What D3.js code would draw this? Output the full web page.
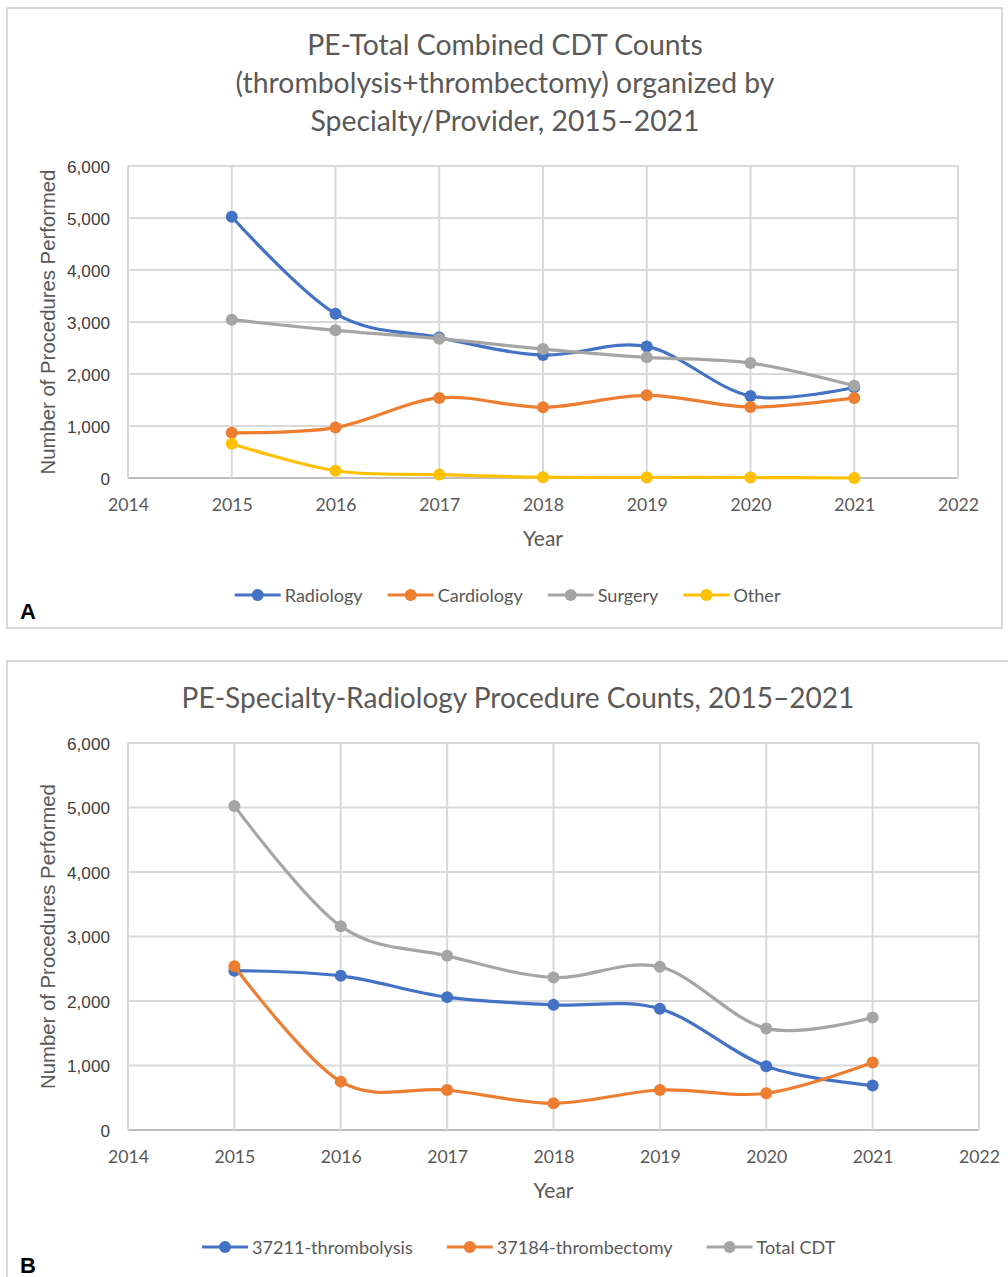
<!DOCTYPE html>
<html>
<head>
<meta charset="utf-8">
<script src="https://cdn.jsdelivr.net/npm/d3@7"></script>
<style>
  html, body { margin: 0; padding: 0; background: #fff; }
  svg { display: block; }
</style>
</head>
<body>
<svg id="chart" width="1008" height="1277"></svg>
<script>
// ---------------- DATA ----------------
const years = [2015, 2016, 2017, 2018, 2019, 2020, 2021];
const xTickYears = [2014, 2015, 2016, 2017, 2018, 2019, 2020, 2021, 2022];
const yTickValues = [0, 1000, 2000, 3000, 4000, 5000, 6000];

// Panel A: combined CDT counts by specialty
const radiology  = [5025, 3160, 2700, 2365, 2530, 1575, 1745];
const cardiology = [870, 970, 1540, 1360, 1590, 1365, 1540];
const surgery    = [3045, 2840, 2680, 2480, 2320, 2210, 1775];
const other      = [660, 140, 65, 15, 10, 10, 0];
const seriesNamesA = ["Radiology", "Cardiology", "Surgery", "Other"];

// Panel B: radiology procedure counts
const thrombolysis37211 = [2470, 2390, 2060, 1940, 1880, 990, 690];
const thrombectomy37184 = [2540, 750, 620, 415, 620, 570, 1045];
const totalCDT          = [5025, 3160, 2700, 2365, 2530, 1575, 1745];
const seriesNamesB = ["37211-thrombolysis", "37184-thrombectomy", "Total CDT"];

const titleA = ["PE-Total Combined CDT Counts", "(thrombolysis+thrombectomy) organized by", "Specialty/Provider, 2015\u20132021"];
const titleB = ["PE-Specialty-Radiology Procedure Counts, 2015\u20132021"];
const xAxisTitle = "Year";
const yAxisTitle = "Number of Procedures Performed";

// ---------------- STYLE ----------------
const colors = ["#4472C4", "#ED7D31", "#A5A5A5", "#FFC000"];
const calibriLike = "Lato, 'Open Sans', sans-serif";
const arialLike = "'Liberation Sans', Arial, sans-serif";
const textGray = "#595959";
const gridColor = "#D9D9D9";

const svg = d3.select("#chart");
svg.append("rect").attr("width", 1008).attr("height", 1277).attr("fill", "#fff");

function fitGroup(nodes, targets, base) {
  let m = 0, t = 0;
  nodes.forEach((n, i) => { m += n.getComputedTextLength(); t += targets[i]; });
  const s = base * t / m;
  nodes.forEach(n => d3.select(n).attr("font-size", s));
  return s;
}

function drawPanel(cfg) {
  const g = svg.append("g");
  // outer box
  g.append("rect")
    .attr("x", cfg.box[0]).attr("y", cfg.box[1])
    .attr("width", cfg.box[2]).attr("height", cfg.box[3])
    .attr("fill", "none").attr("stroke", "#D9D9D9").attr("stroke-width", 2);

  // title
  const titleNodes = [];
  cfg.title.forEach((line, i) => {
    const t = g.append("text")
      .attr("x", cfg.titleX).attr("y", cfg.titleY[i])
      .attr("text-anchor", "middle").attr("dominant-baseline", "central")
      .attr("font-family", calibriLike).attr("font-size", 24)
      .attr("fill", textGray).text(line);
    titleNodes.push(t.node());
  });
  fitGroup(titleNodes, cfg.titleW, 24);

  const x = d3.scaleLinear().domain([2014, 2022]).range([cfg.plot[0], cfg.plot[1]]);
  const y = d3.scaleLinear().domain([0, 6000]).range([cfg.plot[3], cfg.plot[2]]);

  // grid lines
  g.append("g").selectAll("line.h").data(yTickValues).join("line")
    .attr("x1", x(2014)).attr("x2", x(2022))
    .attr("y1", d => y(d)).attr("y2", d => y(d))
    .attr("stroke", d => d === 0 ? "#BFBFBF" : gridColor).attr("stroke-width", 2);
  g.append("g").selectAll("line.v").data(xTickYears).join("line")
    .attr("x1", d => x(d)).attr("x2", d => x(d))
    .attr("y1", y(6000)).attr("y2", y(0))
    .attr("stroke", gridColor).attr("stroke-width", 2);

  // axes (labels only, via d3 axes)
  const xAxis = d3.axisBottom(x).tickValues(xTickYears).tickFormat(d3.format("d")).tickSize(0).tickPadding(0);
  const xa = g.append("g").attr("transform", `translate(0,${cfg.xTickY})`).call(xAxis);
  xa.select(".domain").remove();
  xa.selectAll("text").attr("font-family", calibriLike).attr("fill", textGray)
    .attr("font-size", 20).attr("dy", null).attr("dominant-baseline", "central");
  fitGroup(xa.selectAll("text").nodes(), xa.selectAll("text").nodes().map(() => 41), 20);

  const yAxis = d3.axisLeft(y).tickValues(yTickValues).tickFormat(d3.format(",")).tickSize(0).tickPadding(0);
  const ya = g.append("g").attr("transform", `translate(${cfg.yTickX},0)`).call(yAxis);
  ya.select(".domain").remove();
  ya.selectAll("text").attr("font-family", arialLike).attr("fill", "#404040")
    .attr("font-size", 16).attr("dy", null).attr("dominant-baseline", "central");
  fitGroup([ya.selectAll("text").nodes()[6]], [43], 16);
  const ys = +d3.select(ya.selectAll("text").nodes()[6]).attr("font-size");
  ya.selectAll("text").attr("font-size", ys);

  // axis titles
  const xt = g.append("text").attr("x", (cfg.plot[0] + cfg.plot[1]) / 2).attr("y", cfg.xTitleY)
    .attr("text-anchor", "middle").attr("dominant-baseline", "central")
    .attr("font-family", calibriLike).attr("font-size", 20).attr("fill", textGray).text(xAxisTitle);
  fitGroup([xt.node()], [40], 20);

  const yt = g.append("text")
    .attr("transform", `translate(${cfg.yTitleX},${(cfg.plot[2] + cfg.plot[3]) / 2}) rotate(-90)`)
    .attr("text-anchor", "middle").attr("dominant-baseline", "central")
    .attr("font-family", arialLike).attr("font-size", 18).attr("fill", textGray).text(yAxisTitle);
  fitGroup([yt.node()], [305], 18);

  // series
  const line = d3.line().x((d, i) => x(years[i])).y(d => y(d)).curve(d3.curveCatmullRom.alpha(0));
  cfg.series.forEach((vals, k) => {
    const sg = g.append("g");
    sg.append("path").datum(vals).attr("d", line)
      .attr("fill", "none").attr("stroke", colors[k]).attr("stroke-width", 3.2)
      .attr("stroke-linejoin", "round").attr("stroke-linecap", "round");
    sg.selectAll("circle").data(vals).join("circle")
      .attr("cx", (d, i) => x(years[i])).attr("cy", d => y(d)).attr("r", 6)
      .attr("fill", colors[k]);
  });

  // legend
  const lg = g.append("g");
  const items = cfg.names.map((name, k) => {
    const it = lg.append("g");
    it.append("line").attr("class", "ll").attr("stroke", colors[k]).attr("stroke-width", 3.2);
    it.append("circle").attr("r", 6).attr("fill", colors[k]);
    const t = it.append("text").attr("font-family", calibriLike).attr("font-size", 20)
      .attr("fill", textGray).attr("dominant-baseline", "central").text(name);
    return { it, t };
  });
  fitGroup(items.map(d => d.t.node()), cfg.legendW, 20);
  const lineLen = 46, gapText = 4;
  const widths = items.map(d => lineLen + gapText + d.t.node().getComputedTextLength());
  const total = d3.sum(widths) + cfg.legendGap * (items.length - 1);
  let cx = cfg.legendCenter - total / 2;
  items.forEach((d, k) => {
    d.it.select("line").attr("x1", cx).attr("x2", cx + lineLen).attr("y1", cfg.legendY).attr("y2", cfg.legendY);
    d.it.select("circle").attr("cx", cx + lineLen / 2).attr("cy", cfg.legendY);
    d.t.attr("x", cx + lineLen + gapText).attr("y", cfg.legendY);
    cx += widths[k] + cfg.legendGap;
  });

  // panel letter
  g.append("text").attr("x", 20).attr("y", cfg.letterY)
    .attr("font-family", arialLike).attr("font-weight", "bold").attr("font-size", 22)
    .attr("fill", "#000").text(cfg.letter);
}

drawPanel({
  box: [7, 8, 995, 620],
  title: titleA, titleX: 505, titleY: [44, 82, 120], titleW: [389, 551, 384],
  plot: [128, 958, 166, 478],
  xTickY: 504, yTickX: 110, xTitleY: 537, yTitleX: 48,
  series: [radiology, cardiology, surgery, other],
  names: seriesNamesA, legendW: [78, 85, 62, 46], legendGap: 25, legendCenter: 507.6, legendY: 595,
  letter: "A", letterY: 619
});

drawPanel({
  box: [7, 661, 1030, 640],
  title: titleB, titleX: 518, titleY: [697], titleW: [673],
  plot: [128, 979, 743, 1130],
  xTickY: 1156, yTickX: 110, xTitleY: 1189, yTitleX: 48,
  series: [thrombolysis37211, thrombectomy37184, totalCDT],
  names: seriesNamesB, legendW: [160, 178, 77.5], legendGap: 34, legendCenter: 518.7, legendY: 1247,
  letter: "B", letterY: 1273
});
</script>
</body>
</html>
